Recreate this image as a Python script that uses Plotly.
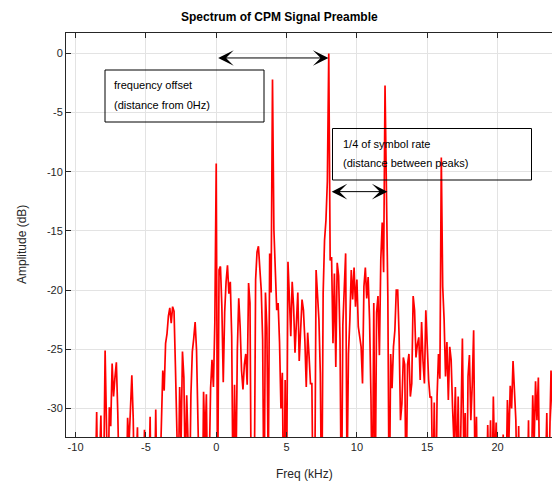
import plotly.graph_objects as go

# ---------------- data ----------------
freq_start_khz = -11.0
freq_step_khz = 0.1

amplitude_db = [
    # -11.0 .. -10.1
    -42, -38, -45, -40, -37, -44, -41, -39, -46, -38,
    # -10.0 .. -9.1
    -40, -43, -37, -45, -39, -42, -38, -44, -41, -36,
    # -9.0 .. -8.1
    -38, -41, -36, -43, -37, -30.3, -39, -35, -30.6, -38,
    # -8.0 .. -7.1
    -36, -25.1, -34, -38, -29.9, -31.5, -26.2, -29.0, -27.4, -26.1,
    # -7.0 .. -6.1
    -30.3, -37, -42, -36, -40, -44, -38, -30.8, -33, -29.7,
    # -6.0 .. -5.1
    -27.2, -30.9, -39, -35, -31.6, -40, -37, -43, -36, -31.8,
    # -5.0 .. -4.1
    -39, -44, -37, -30.7, -41, -36, -39, -30.1, -38, -42,
    # -4.0 .. -3.1
    -36, -30.2, -26.8, -28.5, -24.5, -23.7, -22.2, -21.5, -22.8, -21.4,
    # -3.0 .. -2.1
    -21.8, -26.5, -31.2, -37, -28.2, -33, -25.2, -27.4, -36, -28.9,
    # -2.0 .. -1.1
    -33, -38, -28.9, -25.2, -24.1, -22.7, -25.1, -31, -37, -34,
    # -1.0 .. -0.1
    -41, -28.6, -33, -28.8, -39, -35, -28.3, -25.9, -28.2, -22.8,
    # 0.0 .. 0.9
    -9.3, -38, -18.3, -18.0, -21.4, -27.8, -21.9, -19.3, -17.9, -20.3,
    # 1.0 .. 1.9
    -19.3, -23.9, -38, -28.0, -36, -25.1, -20.7, -23.1, -26.8, -28.4,
    # 2.0 .. 2.9
    -26.3, -25.4, -28.0, -19.4, -21.1, -40, -34, -38, -19.1, -16.8,
    # 3.0 .. 3.9
    -16.3, -18.2, -20.0, -24.2, -40, -20.2, -23.2, -36, -16.9, -20.2,
    # 4.0 .. 4.9
    -2.2, -14.9, -18.3, -21.7, -21.1, -24.4, -30.0, -27.0, -40, -27.6,
    # 5.0 .. 5.9
    -38, -17.6, -20.6, -23.9, -19.3, -21.4, -25.3, -23.1, -20.2, -26.0,
    # 6.0 .. 6.9
    -22.5, -20.8, -21.7, -24.2, -28.2, -23.6, -25.6, -27.9, -27.9, -40,
    # 7.0 .. 7.9
    -38, -18.3, -20.8, -22.5, -27.0, -40, -20.3, -15.8, -14.1, -10.8,
    # 8.0 .. 8.9
    0.0, -17.5, -17.2, -24.5, -18.6, -26.5, -17.7, -18.8, -24.2, -40,
    # 9.0 .. 9.9
    -23.0, -19.4, -16.9, -36, -25.4, -22.5, -18.3, -20.8, -18.1, -21.4,
    # 10.0 .. 10.9
    -19.1, -23.1, -23.9, -24.8, -27.9, -19.7, -18.1, -20.7, -18.9, -22.5,
    # 11.0 .. 11.9
    -29.0, -40, -21.1, -38, -21.9, -20.5, -25.5, -17.4, -14.3, -18.5,
    # 12.0 .. 12.9
    -2.7, -14.3, -20.5, -40, -25.4, -28.3, -24.8, -23.4, -20.0, -20.0,
    # 13.0 .. 13.9
    -23.9, -31, -29.6, -25.7, -26.3, -38, -26.3, -25.4, -29.0, -27.9,
    # 14.0 .. 14.9
    -20.5, -21.7, -25.7, -24.6, -24.0, -27.6, -22.7, -26.0, -27.9, -21.7,
    # 15.0 .. 15.9
    -25.4, -27.6, -29.1, -29.0, -38, -29.5, -40, -29.0, -25.4, -27.5,
    # 16.0 .. 16.9
    -8.8, -19.7, -22.5, -27.3, -24.4, -29.3, -24.8, -25.9, -29.9, -33,
    # 17.0 .. 17.9
    -28.2, -36, -29.0, -38, -31.0, -24.1, -34, -30.4, -40, -27.3,
    # 18.0 .. 18.9
    -25.5, -31, -28, -23.4, -36, -30.7, -40, -37, -42, -38,
    # 19.0 .. 19.9
    -36, -41, -38, -31.4, -37, -31.0, -38, -29.0, -35, -31.2,
    # 20.0 .. 20.9
    -40, -37, -43, -39, -32.2, -41, -37, -29.3, -33, -28.1,
    # 21.0 .. 21.9
    -30, -26.0, -28.5, -31.0, -38, -31.5, -40, -44, -38, -41,
    # 22.0 .. 22.9
    -37, -39, -31.0, -42, -36, -28.9, -33, -27.7, -31, -27.4,
    # 23.0 .. 23.9
    -37, -40, -34, -38, -36, -30.4, -39, -31, -26.8, -30,
    # 24.0 .. 24.5
    -35, -38, -41, -36, -40, -43,
]
freq_khz = [round(freq_start_khz + freq_step_khz * i, 2) for i in range(len(amplitude_db))]

x_tick_vals = [-10, -5, 0, 5, 10, 15, 20]
x_tick_text = ["-10", "-5", "0", "5", "10", "15", "20"]
y_tick_vals = [0, -5, -10, -15, -20, -25, -30]
y_tick_text = ["0", "-5", "-10", "-15", "-20", "-25", "-30"]

title_text = "Spectrum of CPM Signal Preamble"
x_label = "Freq (kHz)"
y_label = "Amplitude (dB)"
box1_lines = ["frequency offset", "(distance from 0Hz)"]
box2_lines = ["1/4 of symbol rate", "(distance between peaks)"]

# ---------------- layout geometry ----------------
W, H = 552, 484
L, T, R, B = 66, 33, 0, 47
PW, PH = W - L - R, H - T - B


def px(x):
    return (x - L) / PW


def py(y):
    return (H - B - y) / PH


FONT = "Liberation Sans, Arial, Helvetica, sans-serif"
AX = "#262626"
GRID = "#e3e3e3"

fig = go.Figure()
fig.add_trace(go.Scatter(
    x=freq_khz, y=amplitude_db, mode="lines",
    line=dict(color="#ff0000", width=1.7),
    showlegend=False, hoverinfo="skip",
))

axis_common = dict(
    showgrid=True, gridcolor=GRID, gridwidth=1,
    zeroline=False, showline=True, linecolor=AX, linewidth=1,
    ticks="inside", ticklen=5, tickcolor=AX, tickwidth=1,
    tickfont=dict(family=FONT, size=11, color=AX),
    tickmode="array",
)
fig.update_xaxes(range=[-10.68, 23.87], tickvals=x_tick_vals, ticktext=x_tick_text,
                 mirror="ticks", **axis_common)
fig.update_yaxes(range=[-32.42, 1.73], tickvals=y_tick_vals, ticktext=y_tick_text,
                 mirror=False, **axis_common)

annotations = []
# title and axis labels
annotations.append(dict(text="<b>" + title_text + "</b>", xref="paper", yref="paper",
                        x=px(279), y=py(17), xanchor="center", yanchor="middle",
                        showarrow=False, font=dict(family=FONT, size=12, color="#000000")))
annotations.append(dict(text=x_label, xref="paper", yref="paper",
                        x=px(304), y=py(474), xanchor="center", yanchor="middle",
                        showarrow=False, font=dict(family=FONT, size=12, color=AX)))
annotations.append(dict(text=y_label, xref="paper", yref="paper",
                        x=px(22), y=py(245), xanchor="center", yanchor="middle",
                        textangle=-90, showarrow=False,
                        font=dict(family=FONT, size=12, color=AX)))

# text in boxes
for line, yy in zip(box1_lines, [85, 105]):
    annotations.append(dict(text=line, xref="paper", yref="paper", x=px(112), y=py(yy),
                            xanchor="left", yanchor="middle", showarrow=False,
                            font=dict(family=FONT, size=11, color="#000000")))
for line, yy in zip(box2_lines, [143.5, 163.5]):
    annotations.append(dict(text=line, xref="paper", yref="paper", x=px(340.5), y=py(yy),
                            xanchor="left", yanchor="middle", showarrow=False,
                            font=dict(family=FONT, size=11, color="#000000")))

# double arrows
for (x0, x1, yv) in [(0.03, 7.98, -0.38), (8.1, 12.17, -11.68)]:
    annotations.append(dict(text="", xref="x", yref="y", axref="x", ayref="y",
                            x=x1, y=yv, ax=x0, ay=yv, showarrow=True,
                            arrowside="end+start", arrowhead=3, startarrowhead=3,
                            arrowsize=2.6, startarrowsize=2.6, arrowwidth=1,
                            arrowcolor="#000000"))

shapes = [
    dict(type="rect", xref="paper", yref="paper", x0=px(105), x1=px(264),
         y0=py(122), y1=py(70), line=dict(color="#000000", width=1),
         fillcolor="rgba(0,0,0,0)", layer="above"),
    dict(type="rect", xref="paper", yref="paper", x0=px(332.5), x1=px(531.5),
         y0=py(180), y1=py(128.5), line=dict(color="#000000", width=1),
         fillcolor="rgba(0,0,0,0)", layer="above"),
]

fig.update_layout(
    width=W, height=H,
    margin=dict(l=L, r=R, t=T, b=B, pad=0),
    paper_bgcolor="white", plot_bgcolor="white",
    annotations=annotations, shapes=shapes,
    showlegend=False,
)

fig.write_html("out.html", config={"displayModeBar": False})
